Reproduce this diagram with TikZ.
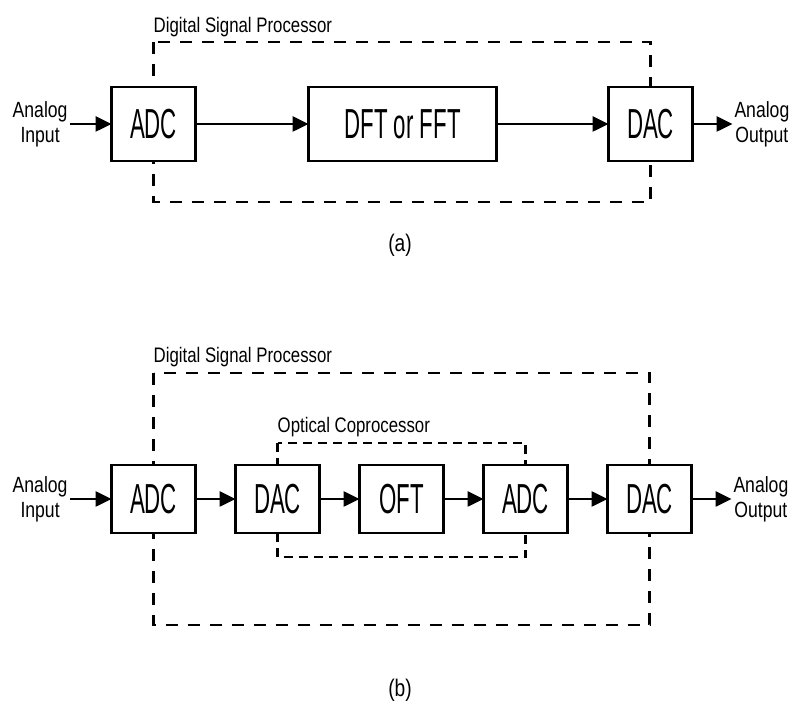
\documentclass[tikz,border=0pt]{standalone}
\usepackage{fontspec}
\setmainfont{Liberation Sans}
\newfontfamily\boxfont{Liberation Sans}[FakeStretch=0.53]
\newfontfamily\tagfont{Liberation Sans}[FakeStretch=0.8]
\usetikzlibrary{arrows.meta,positioning,backgrounds,calc}

\begin{document}
\begin{tikzpicture}[
    font=\boxfont\fontsize{42}{46}\selectfont,
    node distance=40pt,
    block/.style={draw, fill=white, line width=2.6pt, minimum width=84pt, minimum height=68pt, inner sep=0pt, outer sep=0pt},
    io/.style={font=\tagfont\fontsize{22}{25}\selectfont, align=center, inner sep=2pt, outer sep=0pt},
    tag/.style={font=\tagfont\fontsize{21}{23}\selectfont, anchor=base west, inner sep=0pt},
    caption/.style={font=\tagfont\fontsize{24}{28}\selectfont, inner sep=0pt},
    flow/.style={-{Triangle[length=16pt,width=15pt]}, line width=2.6pt},
    dspframe/.style={dash pattern=on 12pt off 10pt, line width=2.6pt},
    optframe/.style={dash pattern=on 9pt off 6pt, line width=2.4pt}
]
\useasboundingbox (0,0) rectangle (792pt,706pt);

% (a) plain DSP chain
\node[block, minimum height=74pt] (adcA) at (153.5pt,582pt) {ADC};
\node[block, minimum width=188pt, minimum height=74pt, right=113pt of adcA] (dft) {DFT or FFT};
\node[block, minimum height=74pt, right=112pt of dft] (dacA) {DAC};
\node[io, left=42pt of adcA] (inA) {Analog\\Input};
\node[io, right=40pt of dacA] (outA) {Analog\\Output};
\node[tag] (dspA) at ($(adcA.center)+(0,91pt)$) {Digital Signal Processor};
\node[caption] (capA) at (400pt,461pt) {(a)};

\begin{scope}[on background layer]
\draw[dspframe] ($(adcA.center)+(0,82pt)$) rectangle ($(dacA.center)+(0,-78pt)$);
\end{scope}

\foreach \a/\b in {inA/adcA, adcA/dft, dft/dacA, dacA/outA}
  \draw[flow] (\a.east) -- (\b.west);

% (b) with optical coprocessor
\node[block] (adcB) at (153.5pt,207pt) {ADC};
\node[block, right=of adcB] (dacB) {DAC};
\node[block, right=of dacB] (oft) {OFT};
\node[block, right=of oft] (adcC) {ADC};
\node[block, right=of adcC] (dacC) {DAC};
\node[io, left=42pt of adcB] (inB) {Analog\\Input};
\node[io, right=40pt of dacC] (outB) {Analog\\Output};
\node[tag] (dspB) at ($(adcB.center)+(0,136pt)$) {Digital Signal Processor};
\node[tag] (ocp) at ($(dacB.center)+(0,66pt)$) {Optical Coprocessor};
\node[caption] (capB) at (400pt,16pt) {(b)};

\begin{scope}[on background layer]
\draw[dspframe] ($(adcB.center)+(0,126pt)$) rectangle ($(dacC.center)+(0,-126pt)$);
\draw[optframe] ($(dacB.center)+(0,56pt)$) rectangle ($(adcC.center)+(0,-58pt)$);
\end{scope}

\foreach \a/\b in {inB/adcB, adcB/dacB, dacB/oft, oft/adcC, adcC/dacC, dacC/outB}
  \draw[flow] (\a.east) -- (\b.west);
\end{tikzpicture}
\end{document}
